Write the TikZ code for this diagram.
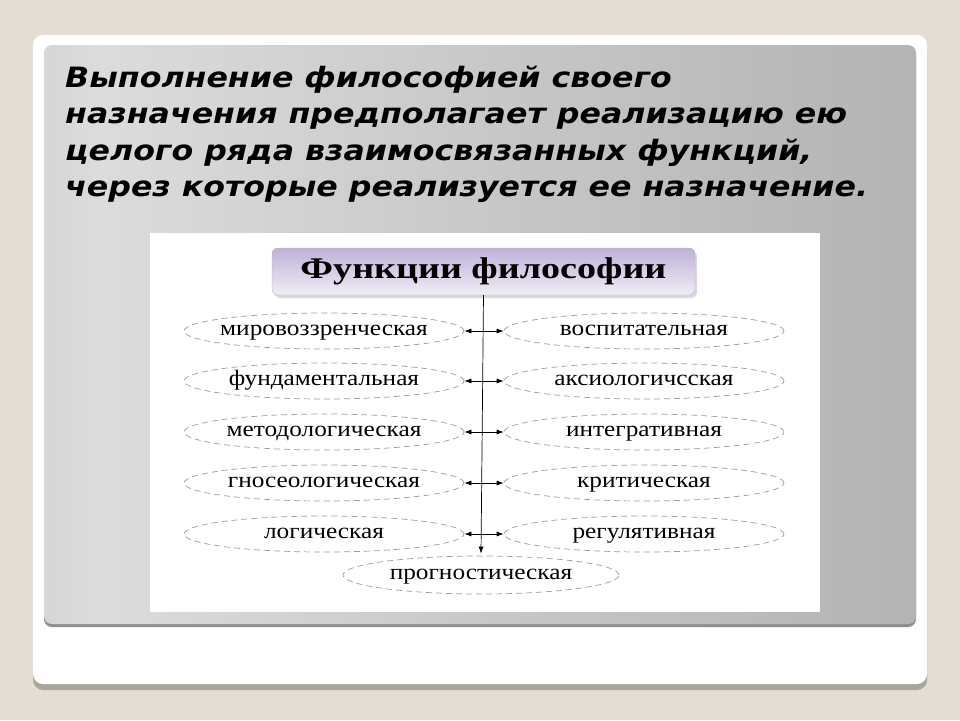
\documentclass[tikz,border=0pt]{standalone}
\usepackage{fontspec}
\newfontfamily\headfont[FakeStretch=1.13]{DejaVu Sans}
\newfontfamily\boxfont[FakeStretch=1.15]{Liberation Serif}
\newfontfamily\titlefont[FakeStretch=1.27]{Liberation Serif}
\usetikzlibrary{shapes.geometric,arrows.meta,shadows}

\definecolor{slidebg}{HTML}{E3DDD3}
\definecolor{cardshadow}{HTML}{A9A69B}
\definecolor{panelshadow}{HTML}{8E8E8E}
\definecolor{panelA}{HTML}{A4A4A4}
\definecolor{panelB}{HTML}{DCDCDC}
\definecolor{panelC}{HTML}{BEBEBE}
\definecolor{panelD}{HTML}{A0A0A0}
\definecolor{dashgray}{HTML}{9C99AC}
\definecolor{boxtop}{HTML}{BFB2D8}
\definecolor{boxbottom}{HTML}{F0ECF6}
\definecolor{boxline}{HTML}{B4ADC2}

\pgfdeclarehorizontalshading{panelshade}{100bp}{color(0bp)=(panelA); color(28bp)=(panelB); color(62bp)=(panelC); color(100bp)=(panelD)}

\tikzset{
  headtip/.tip={Latex[length=7pt,width=5pt]},
  func/.style={ellipse, draw=dashgray, dash pattern=on 6pt off 4pt, line width=0.7pt,
    minimum width=280pt, minimum height=36pt, inner xsep=-40pt, inner ysep=0pt,
    text height=9pt, text depth=0pt,
    font=\boxfont\fontsize{22}{26}\selectfont},
  headline/.style={anchor=base west, inner sep=0pt,
    font=\headfont\bfseries\itshape\fontsize{28}{33}\selectfont},
  link/.style={headtip-headtip, line width=0.7pt},
}

\begin{document}
\begin{tikzpicture}[x=1pt,y=-1pt]

   \useasboundingbox (0,0) rectangle (960,720);
   \fill [slidebg] (0,0) rectangle (960,720);

   % card and panel
   \fill [cardshadow, rounded corners=10pt] (33,41) rectangle (927,690);
   \fill [white, rounded corners=10pt] (33,35) rectangle (927,684);
   \fill [panelshadow, rounded corners=8pt] (44,48) rectangle (916,627);
   \shade [shading=panelshade, rounded corners=8pt] (44,45) rectangle (916,624);
   \fill [white] (150,233) rectangle (820,612);

   \node (Line1) at (65,87) [headline] {Выполнение философией своего};
   \node (Line2) at (65,123.5) [headline] {назначения предполагает реализацию ею};
   \node (Line3) at (65,160) [headline] {целого ряда взаимосвязанных функций,};
   \node (Line4) at (65,196.5) [headline] {через которые реализуется ее назначение.};

   \node (Functions) at (483.5,271.5) [draw=boxline, rounded corners=6pt,
      top color=boxtop, bottom color=boxbottom, minimum width=423pt, minimum height=47pt,
      drop shadow={shadow xshift=2pt, shadow yshift=-3pt, fill=gray!60},
      font=\titlefont\bfseries\fontsize{30}{34}\selectfont] {Функции философии};

   \node (Worldview) at (324,331) [func] {мировоззренческая};
   \node (Fundamental) at (324,381) [func] {фундаментальная};
   \node (Methodological) at (324,432) [func] {методологическая};
   \node (Gnoseological) at (324,483) [func] {гносеологическая};
   \node (Logical) at (324,534) [func] {логическая};

   \node (Educational) at (644,331) [func] {воспитательная};
   \node (Axiological) at (644,381) [func] {аксиологичсская};
   \node (Integrative) at (644,432) [func] {интегративная};
   \node (Critical) at (644,483) [func] {критическая};
   \node (Regulative) at (644,534) [func] {регулятивная};

   \node (Prognostic) at (481,575) [func, minimum width=276pt, minimum height=38pt] {прогностическая};

   \draw [-headtip, line width=0.7pt] (Functions.south) -- ([yshift=2pt]Prognostic.north);

   \draw [link] (Worldview.east) -- (Educational.west);
   \draw [link] (Fundamental.east) -- (Axiological.west);
   \draw [link] (Methodological.east) -- (Integrative.west);
   \draw [link] (Gnoseological.east) -- (Critical.west);
   \draw [link] (Logical.east) -- (Regulative.west);

\end{tikzpicture}
\end{document}
